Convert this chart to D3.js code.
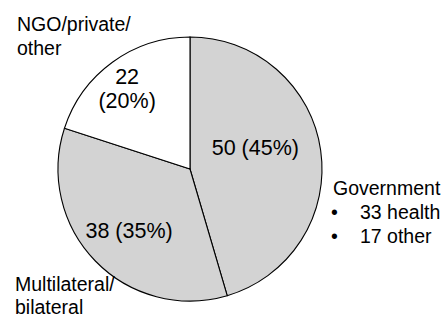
<!DOCTYPE html>
<html>
<head>
<meta charset="utf-8">
<script src="https://cdn.jsdelivr.net/npm/d3@7"></script>
<style>
  body { margin: 0; background: #fff; }
  text { font-family: "Liberation Sans", Arial, sans-serif; fill: #000; }
</style>
</head>
<body>
<figure style="margin:0"></figure>
<script>
var width = 448, height = 318;

// data
var categories = ["Government", "Multilateral/bilateral", "NGO/private/other"];
var counts = [50, 38, 22];
var percents = [45, 35, 20];
var govBreakdown = ["33 health", "17 other"];

// label text lines per slice, outside names
var insideLines = [
  ["50 (45%)"],
  ["38 (35%)"],
  ["22", "(20%)"]
];
var outsideLines = [
  ["Government"],
  ["Multilateral/", "bilateral"],
  ["NGO/private/", "other"]
];

var fills = ["#d3d3d3", "#d3d3d3", "#ffffff"];

var cx = 190, cy = 169, radius = 132;
var inFont = 21.5, inLineH = 24.5;
var outFont = 19.5, outLineH = 24;

var svg = d3.select("figure").append("svg")
    .attr("width", width)
    .attr("height", height);

var g = svg.append("g")
    .attr("transform", "translate(" + cx + "," + cy + ")");

var pie = d3.pie().sort(null).value(function(d) { return d; });
var arcs = pie(counts);

var arc = d3.arc().innerRadius(0).outerRadius(radius);

g.selectAll("path.slice")
    .data(arcs)
  .enter().append("path")
    .attr("class", "slice")
    .attr("d", arc)
    .attr("fill", function(d, i) { return fills[i]; })
    .attr("stroke", "#000")
    .attr("stroke-width", 1.1);

// inside labels: centroid of a label arc, then a small nudge
var labelRadius = [66, 85, 107];
var nudge = [[0, -12], [0, 2], [0, 6]];

g.selectAll("g.inlabel")
    .data(arcs)
  .enter().append("g")
    .attr("class", "inlabel")
    .attr("transform", function(d, i) {
      var c = d3.arc().innerRadius(labelRadius[i]).outerRadius(labelRadius[i]).centroid(d);
      return "translate(" + (c[0] + nudge[i][0]) + "," + (c[1] + nudge[i][1]) + ")";
    })
    .each(function(d, i) {
      var lines = insideLines[i];
      var sel = d3.select(this);
      lines.forEach(function(s, k) {
        sel.append("text")
          .attr("text-anchor", "middle")
          .style("font-size", inFont + "px")
          .attr("x", 0)
          .attr("y", (k - (lines.length - 1) / 2) * inLineH + inFont * 0.35)
          .text(s);
      });
    });

// outside category names
var outsidePos = [[333, 195], [15, 291], [17, 31]];

outsideLines.forEach(function(lines, i) {
  lines.forEach(function(s, k) {
    svg.append("text")
      .attr("x", outsidePos[i][0])
      .attr("y", outsidePos[i][1] + k * (i == 1 ? 23 : outLineH))
      .style("font-size", outFont + "px")
      .text(s);
  });
});

// government breakdown bullets
var bullets = svg.append("g");
govBreakdown.forEach(function(s, k) {
  var y = outsidePos[0][1] + (k + 1) * outLineH;
  bullets.append("text")
    .attr("x", 331).attr("y", y)
    .style("font-size", outFont + "px")
    .text("\u2022");
  bullets.append("text")
    .attr("x", 360).attr("y", y)
    .style("font-size", outFont + "px")
    .text(s);
});
</script>
</body>
</html>
